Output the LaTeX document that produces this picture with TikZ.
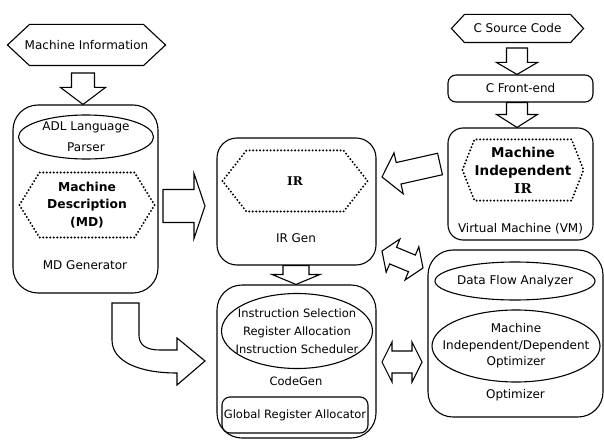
\documentclass[tikz,border=0pt]{standalone}
\usepackage{fontspec}
\setmainfont{DejaVu Sans}
\newfontfamily\irfont{DejaVu Serif}
\usetikzlibrary{calc}

% straight block arrow: from, to, head length, shaft half width, head half width
\newcommand\blockarrow[5]{%
  \path[barrow] let \p1=#1, \p2=#2,
    \n1={atan2(\y2-\y1,\x2-\x1)}, \n2={veclen(\x2-\x1,\y2-\y1)} in
    [shift={(\p1)}, rotate=\n1]
    (0,#4) -- ({\n2-#3},#4) -- ({\n2-#3},#5) -- (\n2,0)
    -- ({\n2-#3},-#5) -- ({\n2-#3},-#4) -- (0,-#4) -- cycle;}
% two-headed block arrow with the same parameters
\newcommand\twowayarrow[5]{%
  \path[barrow] let \p1=#1, \p2=#2,
    \n1={atan2(\y2-\y1,\x2-\x1)}, \n2={veclen(\x2-\x1,\y2-\y1)} in
    [shift={(\p1)}, rotate=\n1]
    (0,0) -- (#3,#5) -- (#3,#4) -- ({\n2-#3},#4) -- ({\n2-#3},#5) -- (\n2,0)
    -- ({\n2-#3},-#5) -- ({\n2-#3},-#4) -- (#3,-#4) -- (#3,-#5) -- cycle;}
% elongated hexagon around a node: style, node, depth of the side points
\newcommand\hexframe[3]{%
  \draw[#1] (#2.west) -- ([xshift=#3]#2.north west) -- ([xshift=-#3]#2.north east)
    -- (#2.east) -- ([xshift=-#3]#2.south east) -- ([xshift=#3]#2.south west) -- cycle;}
% oval around a node: node, x radius, y radius
\newcommand\ovalframe[3]{%
  \draw (#1.center) ellipse [x radius=#2, y radius=#3];}

\begin{document}
\begin{tikzpicture}[x=1pt,y=-1pt,
  line width=1.1pt,
  every node/.style={font=\fontsize{12}{18}\selectfont, inner sep=0pt, align=center},
  box/.style={draw, rounded corners=#1, line width=1.1pt},
  box/.default=20pt,
  dots/.style={line width=2.2pt, dash pattern=on 0pt off 3.5pt, line cap=round},
  barrow/.style={draw, fill=white, line width=1.1pt, line join=miter},
]
\useasboundingbox (0,0) rectangle (604,441);

% ---- machine description side
\node[minimum width=157pt, minimum height=40pt] (minfo) at (86.5,45) {Machine Information};
\hexframe{}{minfo}{22pt}
\node[box=25pt, minimum width=145pt, minimum height=188pt] (mdgen) at (85.5,199) {};
\node[font=\fontsize{12}{21}\selectfont] (adl) at (86,137) {ADL Language\\Parser};
\ovalframe{adl}{67.5pt}{22pt}
\node[minimum width=134pt, minimum height=64pt, font=\bfseries\fontsize{12.3}{17.5}\selectfont] (md) at (87,205) {Machine\\Description\\(MD)};
\hexframe{dots}{md}{20pt}
\node at (85,265) {MD Generator};

% ---- IR generator and code generator
\node[box=20pt, minimum width=159pt, minimum height=127pt] (irgen) at (296.5,201.5) {};
\node[minimum width=144pt, minimum height=60pt, font=\irfont\bfseries\fontsize{12}{14}\selectfont] (ir) at (295,181) {IR};
\hexframe{dots}{ir}{24pt}
\node (irgenlbl) at (296,238) {IR Gen};
\node[box=25pt, minimum width=159pt, minimum height=153pt] (codegen) at (296.5,361.5) {};
\node[font=\fontsize{11.5}{18}\selectfont] (sel) at (297,331) {Instruction Selection\\Register Allocation\\Instruction Scheduler};
\ovalframe{sel}{75.5pt}{37.5pt}
\node[font=\fontsize{11.5}{14}\selectfont] (cglbl) at (296,381) {CodeGen};
\node[box=8pt, minimum width=146pt, minimum height=36pt, font=\fontsize{11.5}{14}\selectfont] (gra) at (295,415) {Global Register Allocator};

% ---- front end and virtual machine
\node[minimum width=131pt, minimum height=27pt] (csrc) at (517.5,28.5) {C Source Code};
\hexframe{}{csrc}{13pt}
\node[box=8pt, minimum width=145pt, minimum height=27pt] (cfe) at (520.5,88.5) {C Front-end};
\node[box=15pt, minimum width=145pt, minimum height=112pt] (vm) at (520.5,184) {};
\node[minimum width=120pt, minimum height=60pt, font=\bfseries\fontsize{13.5}{18}\selectfont] (miir) at (523,170) {Machine\\Independent\\{\irfont IR}};
\hexframe{dots}{miir}{12pt}
\node (vmlbl) at (520.5,229) {Virtual Machine (VM)};

% ---- optimizer
\node[box=25pt, minimum width=175pt, minimum height=167pt] (opt) at (515.5,333.5) {};
\node (dfa) at (515,281) {Data Flow Analyzer};
\ovalframe{dfa}{80pt}{19pt}
\node[font=\fontsize{12}{16.5}\selectfont] (mido) at (516,346) {Machine\\Independent/Dependent\\Optimizer};
\ovalframe{mido}{84pt}{36pt}
\node (optlbl) at (515.5,395) {Optimizer};

% ---- arrow end points
\coordinate (a1s) at (83,73);   \coordinate (a1e) at (a1s |- mdgen.north);
\coordinate (a2s) at (163,206); \coordinate (a2e) at (205,206);
\coordinate (a3s) at ([xshift=-0.5pt]irgen.south); \coordinate (a3e) at (a3s |- codegen.north);
\coordinate (a4s) at (517,48);  \coordinate (a4e) at (a4s |- cfe.north);
\coordinate (a5s) at (a4s |- cfe.south); \coordinate (a5e) at (a4s |- vm.north);
\coordinate (a6s) at (440,164); \coordinate (a6e) at (382,177);
\coordinate (a7s) at (382,251); \coordinate (a7e) at (423,268);
\coordinate (a8s) at (382,362); \coordinate (a8e) at (422,362);

\blockarrow{(a1s)}{(a1e)}{17}{11.5}{22.5}
\blockarrow{(a2s)}{(a2e)}{11}{16.5}{32.5}
\blockarrow{(a3s)}{(a3e)}{10}{13}{24}
\blockarrow{(a4s)}{(a4e)}{12}{10.5}{20.5}
\blockarrow{(a5s)}{(a5e)}{13}{10.5}{20.5}
\blockarrow{(a6s)}{(a6e)}{17}{11}{21}
\twowayarrow{(a7s)}{(a7e)}{12}{9}{18}
\twowayarrow{(a8s)}{(a8e)}{10}{11}{20}

% bent arrow from the MD generator down into the code generator
\draw[barrow] (112,303) -- (112,340) .. controls (112,362) and (140,373) .. (177,373)
  -- (177,385) -- (205,361) -- (177,338) -- (177,350) -- (160,350)
  .. controls (146,350) and (139,345) .. (139,335) -- (139,303) -- cycle;
\end{tikzpicture}
\end{document}
